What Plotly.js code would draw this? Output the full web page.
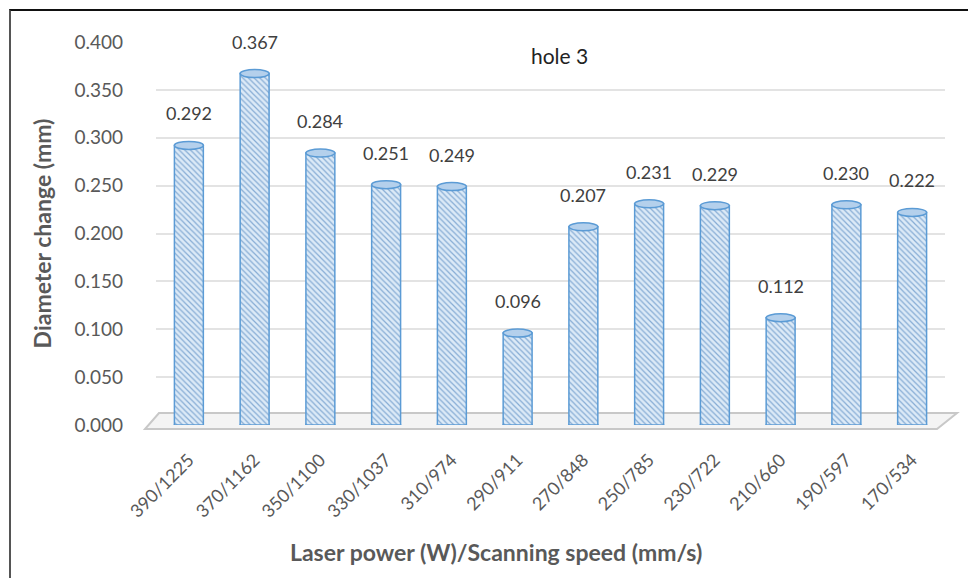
<!DOCTYPE html>
<html>
<head>
<meta charset="utf-8">
<script src="https://cdn.plot.ly/plotly-3.0.1.min.js"></script>
<style>
  html, body { margin: 0; padding: 0; background: #fff; }
  #chart { width: 968px; height: 578px; }
  #frame { position: absolute; left: 9px; top: 9px; width: 980px; height: 600px;
           border-left: 2px solid #555; border-top: 2px solid #111; pointer-events: none; }
</style>
</head>
<body>
<div id="chart"></div>
<div id="frame"></div>
<script>
// ---- data ----
const categories = ["390/1225", "370/1162", "350/1100", "330/1037", "310/974", "290/911",
                    "270/848", "250/785", "230/722", "210/660", "190/597", "170/534"];
const diameterChange = [0.292, 0.367, 0.284, 0.251, 0.249, 0.096,
                        0.207, 0.231, 0.229, 0.112, 0.230, 0.222];
const valueLabels = ["0.292", "0.367", "0.284", "0.251", "0.249", "0.096",
                     "0.207", "0.231", "0.229", "0.112", "0.230", "0.222"];
const yTicks = [0, 0.05, 0.1, 0.15, 0.2, 0.25, 0.3, 0.35, 0.4];
const chartTitle = "hole 3";
const xTitle = "Laser power (W)/Scanning speed (mm/s)";
const yTitle = "Diameter change (mm)";

const FONT = "Lato, 'Open Sans', sans-serif";
const BAR_W = 0.44;
const HALF_W_PX = 14.5;

const trace = {
  type: "bar",
  x: categories,
  y: diameterChange,
  width: BAR_W,
  marker: {
    color: "#d9e8f6",
    line: { color: "#5b9bd5", width: 1.5 },
    pattern: { shape: "\\", size: 4, solidity: 0.3, fgcolor: "#86acd4", bgcolor: "#dceaf7", fillmode: "replace" }
  },
  hoverinfo: "x+y",
  showlegend: false
};

const shapes = [];
// floor (decorative 3D base)
const T = 42, B = 425, L = 156, R = 945;
const px2x = p => (p - L) / (R - L);
const py2y = p => (B - p) / (B - T);
shapes.push({
  type: "path", xref: "paper", yref: "paper", layer: "below",
  path: `M ${px2x(145)} ${py2y(429)} L ${px2x(937)} ${py2y(429)} L ${px2x(957)} ${py2y(413)} L ${px2x(159)} ${py2y(413)} Z`,
  fillcolor: "#f4f4f4", line: { color: "#c8c8c8", width: 2 }
});
diameterChange.forEach((v, i) => {
  // bottom of cylinder
  shapes.push({
    type: "circle", xref: "x", yref: "y", layer: "below",
    xsizemode: "pixel", ysizemode: "pixel", xanchor: i, yanchor: 0,
    x0: -HALF_W_PX, x1: HALF_W_PX, y0: -4, y1: 4,
    fillcolor: "#a9c8e8", line: { color: "#5b9bd5", width: 1.5 }
  });
  // top of cylinder
  shapes.push({
    type: "circle", xref: "x", yref: "y", layer: "above",
    xsizemode: "pixel", ysizemode: "pixel", xanchor: i, yanchor: v,
    x0: -HALF_W_PX, x1: HALF_W_PX, y0: -4, y1: 4,
    fillcolor: "#b4d0ec", line: { color: "#5b9bd5", width: 1.5 }
  });
});

const annotations = diameterChange.map((v, i) => ({
  x: categories[i], y: v, xref: "x", yref: "y",
  text: valueLabels[i], showarrow: false, yshift: 32,
  font: { family: FONT, size: 18, color: "#404040" }
}));
annotations.push({
  xref: "paper", yref: "paper", x: 0.512, y: py2y(56), xanchor: "center", yanchor: "middle",
  text: chartTitle, showarrow: false,
  font: { family: FONT, size: 21, color: "#222" }
});
annotations.push({
  xref: "paper", yref: "paper", x: px2x(496), y: py2y(552), xanchor: "center", yanchor: "middle",
  text: "<b>" + xTitle + "</b>", showarrow: false,
  font: { family: FONT, size: 23, color: "#595959" }
});

const layout = {
  width: 968, height: 578,
  margin: { l: L, r: 968 - R, t: T, b: 578 - B },
  paper_bgcolor: "#fff", plot_bgcolor: "#fff",
  xaxis: {
    type: "category",
    tickangle: -45,
    tickfont: { family: FONT, size: 18, color: "#595959" },
    showgrid: false, showline: false, zeroline: false, ticks: "",
    ticklabelstandoff: 20
  },
  yaxis: {
    range: [0, 0.4],
    tickvals: yTicks,
    tickformat: ".3f",
    tickfont: { family: FONT, size: 19, color: "#595959" },
    showgrid: true, gridcolor: "#e3e3e3", gridwidth: 2,
    zeroline: false, showline: false, ticks: "",
    ticklabelstandoff: 32,
    title: { text: yTitle, font: { family: FONT, size: 23, color: "#595959", weight: "bold" }, standoff: 16 }
  },
  shapes: shapes,
  annotations: annotations
};

Plotly.newPlot("chart", [trace], layout, { staticPlot: true, displayModeBar: false });
</script>
</body>
</html>
